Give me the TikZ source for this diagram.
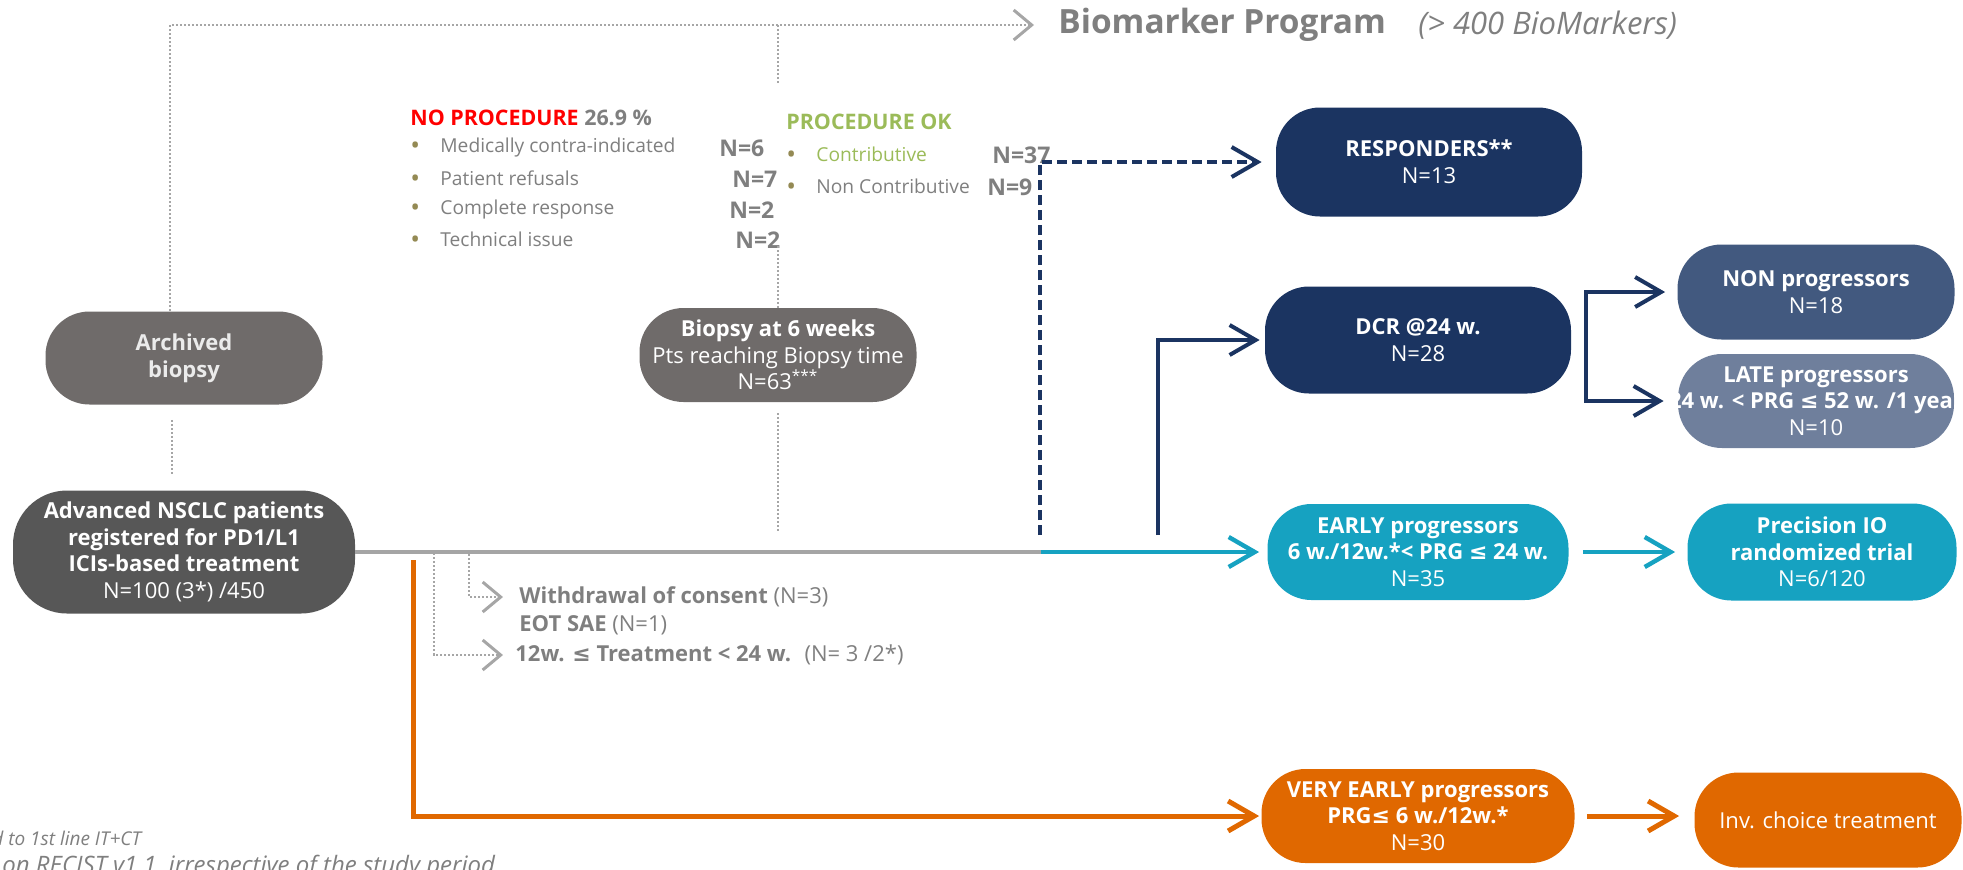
\documentclass[tikz,border=0pt]{standalone}
\usepackage{fontspec}
\setmainfont{Open Sans}
\newfontfamily\symfont{DejaVu Sans}
\usepackage{tikz}
\usetikzlibrary{arrows.meta, positioning, calc}
\usepackage{xcolor}

\definecolor{navy}{HTML}{1B3461}
\definecolor{nonblue}{HTML}{42597F}
\definecolor{lateblue}{HTML}{6F7F9C}
\definecolor{tealbox}{HTML}{16A2C1}
\definecolor{orng}{HTML}{E06800}
\definecolor{archgrey}{HTML}{6F6B6A}
\definecolor{advgrey}{HTML}{575757}
\definecolor{txtgrey}{HTML}{7F7F7F}
\definecolor{dotgrey}{HTML}{A6A6A6}
\definecolor{linegrey}{HTML}{A5A5A5}
\definecolor{nored}{HTML}{FF0000}
\definecolor{okgreen}{HTML}{9BBB59}
\definecolor{bulcol}{HTML}{948A54}

\newcommand{\boxfont}{\fontsize{11}{13.3}\selectfont}
\newcommand{\bul}{\makebox[15pt][l]{\raisebox{-1pt}{\textcolor{bulcol}{\fontsize{13}{13}\selectfont •}}}}
\newcommand{\leqs}{{\symfont ≤}}

\begin{document}
\begin{tikzpicture}[x=0.5pt, y=-0.5pt, >={Straight Barb[length=13pt,width=15pt]},
  node distance=50pt and 100pt, on grid,
  pill/.style={rectangle, rounded corners=22pt, text=white, align=center, font=\boxfont, inner sep=2pt},
  headtxt/.style={anchor=west, inner sep=0pt, font=\bfseries\fontsize{10.7}{12}\selectfont},
  listtxt/.style={anchor=west, inner sep=0pt, text=txtgrey, font=\fontsize{9.6}{11}\selectfont},
  nval/.style={anchor=west, inner sep=0pt, text=txtgrey, font=\bfseries\fontsize{11.5}{12}\selectfont},
  sidetxt/.style={anchor=west, inner sep=0pt, text=txtgrey, font=\fontsize{11}{12}\selectfont},
  foottxt/.style={anchor=west, inner sep=0pt, text=txtgrey, font=\itshape\fontsize{9.5}{11}\selectfont},
  dotline/.style={draw=dotgrey, line width=1.2pt, dash pattern=on 1pt off 1pt},
  dottip/.style={-{Straight Barb[length=9pt,width=15pt,line width=1.5pt]}},
  mainline/.style={draw=linegrey, line width=2pt},
  tealline/.style={draw=tealbox, line width=2.2pt},
  navyline/.style={draw=navy, line width=2pt},
  navydash/.style={draw=navy, line width=2pt, dash pattern=on 5pt off 2.5pt},
  orline/.style={draw=orng, line width=2.5pt}]

\useasboundingbox (0,0) rectangle (1963,869);
\clip (0,0) rectangle (1963,869);

% 左側ノード
\node[pill, fill=advgrey, minimum width=171pt, minimum height=61.5pt, rounded corners=27pt] (adv) at (184,552)
  {\textbf{Advanced NSCLC patients}\\\textbf{registered for PD1/L1}\\\textbf{ICIs-based treatment}\\N=100 (3*) /450};
\node[pill, fill=archgrey, minimum width=138.5pt, minimum height=46.5pt, text=white!92!black, above=97pt of adv] (arch)
  {\textbf{Archived}\\\textbf{biopsy}};
\node[pill, fill=archgrey, minimum width=138.5pt, minimum height=47pt] (biopsy) at (778,355)
  {\textbf{Biopsy at 6 weeks}\\Pts reaching Biopsy time\\N=63\textsuperscript{***}};

% 右側ノード
\node[pill, fill=tealbox, minimum width=150.5pt, minimum height=48pt] (early) at (1418,552)
  {\textbf{EARLY progressors}\\\textbf{6 w./12w.*< PRG \leqs{} 24 w.}\\N=35};
\node[pill, fill=navy, minimum width=153pt, minimum height=53.5pt, above=106pt of early] (dcr)
  {\textbf{DCR @24 w.}\\N=28};
\node[pill, fill=navy, minimum width=153pt, minimum height=54.5pt] (resp) at (1429,162)
  {\textbf{RESPONDERS**}\\N=13};
\node[pill, fill=tealbox, minimum width=134.5pt, minimum height=48.5pt, right=202pt of early] (prec)
  {\textbf{Precision IO}\\\textbf{randomized trial}\\N=6/120};
\node[pill, fill=nonblue, minimum width=138.5pt, minimum height=47.5pt] (non) at (1816,292)
  {\textbf{NON progressors}\\N=18};
\node[pill, fill=lateblue, minimum width=138pt, minimum height=47pt, below=54.5pt of non] (late)
  {\textbf{LATE progressors}\\\makebox[0pt]{\textbf{24 w. < PRG \leqs{} 52 w. /1 year}}\\N=10};
\node[pill, fill=orng, minimum width=156.5pt, minimum height=47pt, below=132pt of early] (vearly)
  {\textbf{VERY EARLY progressors}\\\textbf{PRG\leqs{} 6 w./12w.*}\\N=30};
\node[pill, fill=orng, minimum width=133.5pt, minimum height=47.5pt] (inv) at (1828,820)
  {Inv. choice treatment};

% 上部の見出し
\node[anchor=west, inner sep=0pt, text=txtgrey, font=\bfseries\fontsize{16.7}{18}\selectfont] (bio) at (1058,25) {Biomarker Program};
\node[anchor=west, inner sep=0pt, text=txtgrey, font=\itshape\fontsize{15.5}{16}\selectfont] (biomk) at (1418,25) {(> 400 BioMarkers)};

% 生検の内訳
\node[headtxt, text=nored] (noproc) at (410,118) {NO PROCEDURE \textcolor{txtgrey}{26.9 \%}};
\node[listtxt] (med) at (410,148) {\bul Medically contra-indicated};
\node[listtxt] (refus) at (410,179) {\bul Patient refusals};
\node[listtxt] (compl) at (410,210) {\bul Complete response};
\node[listtxt] (tech) at (410,240) {\bul Technical issue};
\node[nval] (nmed) at (719,148) {N=6};
\node[nval] (nrefus) at (732,179) {N=7};
\node[nval] (ncompl) at (729,210) {N=2};
\node[nval] (ntech) at (735,240) {N=2};
\node[headtxt, text=okgreen] (procok) at (786,122) {PROCEDURE OK};
\node[listtxt] (contr) at (786,155) {\bul\textcolor{okgreen}{Contributive}};
\node[listtxt] (noncontr) at (786,187) {\bul Non Contributive};
\node[nval] (ncontr) at (992,155) {N=37};
\node[nval] (nnoncontr) at (987,187) {N=9};

% 脱落
\node[sidetxt] (wdraw) at (519,597) {\textbf{Withdrawal of consent} (N=3)};
\node[sidetxt] (eot) at (519,625) {\textbf{EOT SAE} (N=1)};
\node[sidetxt] (tw) at (515,655) {\textbf{12w. \leqs{} Treatment < 24 w.} \ (N= 3 /2*)};

% 脚注
\node[foottxt] (fna) at (-8,838) {d to 1st line IT+CT};
\node[foottxt, font=\itshape\fontsize{12}{13}\selectfont] (fnb) at (2,867) {on RECIST v1.1, irrespective of the study period};

% 補助座標
\coordinate (bgapa) at (778,245);
\coordinate (bgapb) at (778,83);
\coordinate (bgapc) at (778,533);
\coordinate (wdturn) at (469,597);
\coordinate (twturn) at (434,655);
\coordinate (split) at (1041,552);
\coordinate (dashfoot) at (1040,535);
\coordinate (solidfoot) at (1158,535);
\coordinate (orfoot) at (413,560);
\coordinate (brmid) at (1586,348);

% 点線
\draw[dotline, dottip, shorten >=12pt] ([xshift=-7pt]arch.north) |- (bio.west);
\draw[dotline] (biopsy.north) -- (bgapa);
\draw[dotline] (bgapb) -- (bgapb |- bio.west);
\draw[dotline, shorten <=7.5pt, shorten >=8pt] ([xshift=-6pt]arch.south) -- ([xshift=-6pt]arch.south |- adv.north);
\draw[dotline, shorten <=5.5pt] (biopsy.south) -- (bgapc);
\draw[dotline, dottip, shorten >=8pt] (adv.east) -| (wdturn) -- (wdraw.west);
\draw[dotline, dottip, shorten >=6pt] (adv.east) -| (twturn) -- (tw.west);

% 矢印
\draw[mainline] (adv.east) -- (split);
\draw[tealline, ->, shorten >=4pt] (split) -- (early.west);
\draw[navydash, ->, shorten >=7pt] (dashfoot) |- (resp.west);
\draw[navyline, ->, shorten >=2.5pt] (solidfoot) |- (dcr.west);
\draw[navyline, ->, shorten >=6pt] (brmid) |- (non.west);
\draw[navyline, ->, shorten >=7pt] (brmid) |- (late.west);
\draw[tealline, ->, shorten <=7pt, shorten >=6pt] (early) -- (prec);
\draw[orline, ->, shorten >=1pt] (orfoot) |- (vearly.west);
\draw[orline, ->, shorten <=6pt, shorten >=7.5pt] (vearly.east) -- (vearly.east -| inv.west);

\end{tikzpicture}
\end{document}
